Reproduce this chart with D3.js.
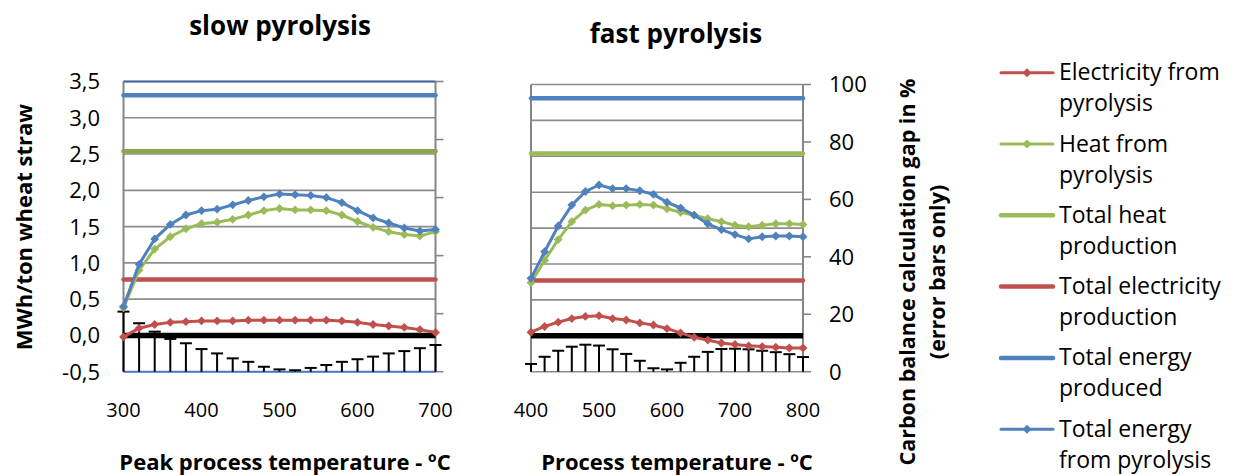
<!DOCTYPE html>
<html><head><meta charset="utf-8">
<script src="https://cdn.jsdelivr.net/npm/d3@7"></script>
<style>
html,body{margin:0;padding:0;background:#fff;}
svg{display:block;font-family:"Open Sans",sans-serif;}
</style></head>
<body>
<svg id="chart" width="1237" height="475"></svg>
<script>
// ---- data ----
const slowTemps = [300,320,340,360,380,400,420,440,460,480,500,520,540,560,580,600,620,640,660,680,700];
const slowElec  = [-0.02,0.10,0.15,0.18,0.19,0.20,0.20,0.20,0.21,0.21,0.21,0.21,0.21,0.21,0.20,0.18,0.15,0.13,0.11,0.08,0.04];
const slowHeat  = [0.38,0.90,1.19,1.36,1.47,1.54,1.56,1.60,1.66,1.72,1.75,1.73,1.73,1.72,1.66,1.57,1.49,1.43,1.39,1.37,1.43];
const slowTotal = [0.40,0.98,1.33,1.53,1.66,1.72,1.74,1.80,1.86,1.91,1.95,1.94,1.93,1.90,1.83,1.72,1.62,1.55,1.48,1.44,1.46];
const slowGap   = [20.7,16.7,13.8,11.3,9.8,7.8,6.3,4.6,3.4,1.7,0.8,0.5,1.3,2.3,3.4,4.3,5.2,6.3,7.1,8.1,9.2];

const fastTemps = [400,420,440,460,480,500,520,540,560,580,600,620,640,660,680,700,720,740,760,780,800];
const fastElec  = [0.05,0.13,0.19,0.24,0.27,0.28,0.24,0.22,0.18,0.15,0.10,0.04,-0.02,-0.06,-0.10,-0.12,-0.14,-0.15,-0.16,-0.17,-0.17];
const fastHeat  = [0.74,1.05,1.34,1.59,1.75,1.83,1.81,1.82,1.83,1.82,1.77,1.72,1.68,1.63,1.59,1.54,1.52,1.54,1.56,1.56,1.55];
const fastTotal = [0.80,1.17,1.53,1.82,2.01,2.10,2.05,2.05,2.02,1.97,1.86,1.78,1.68,1.56,1.48,1.41,1.35,1.38,1.39,1.39,1.38];
const fastGap   = [2.7,5.2,7.3,8.7,9.4,9.1,7.8,6.2,3.8,1.2,0.8,3.1,5.2,6.9,7.9,8.0,7.8,7.3,6.8,6.1,5.1];

const totalHeatProduction = 2.54;
const totalElecProduction = 0.77;
const totalEnergyProduced = 3.31;

const yTicks  = [-0.5,0,0.5,1,1.5,2,2.5,3,3.5];
const y2Ticks = [0,20,40,60,80,100];
const slowXTicks = [300,400,500,600,700];
const fastXTicks = [400,500,600,700,800];

const legendItems = [
  {lines:["Electricity from","pyrolysis"], color:"#c0504d", marker:true},
  {lines:["Heat from","pyrolysis"], color:"#9bbb59", marker:true},
  {lines:["Total heat","production"], color:"#9bbb59", marker:false},
  {lines:["Total electricity","production"], color:"#c0504d", marker:false},
  {lines:["Total energy","produced"], color:"#4f81bd", marker:false},
  {lines:["Total energy","from pyrolysis"], color:"#4f81bd", marker:true}
];

const RED="#c0504d", GREEN="#9bbb59", BLUE="#4f81bd";
const svg = d3.select("#chart");
const diamond = d3.symbol().type(d3.symbolDiamond2).size(50);

function panel(opt){
  const x = d3.scaleLinear().domain(opt.xDomain).range(opt.xRange);
  const y = d3.scaleLinear().domain([-0.5,3.5]).range(opt.yRange);
  const y2 = d3.scaleLinear().domain([0,100]).range(opt.yRange);
  const g = svg.append("g");
  const [x0,x1] = opt.xRange;
  // gridlines
  g.append("g").selectAll("line").data(yTicks).join("line")
    .attr("x1",x0).attr("x2",x1).attr("y1",d=>y(d)).attr("y2",d=>y(d))
    .attr("stroke","#8c8c8c").attr("stroke-width",1.6);
  // frame
  g.append("line").attr("x1",x0).attr("x2",x0).attr("y1",y(3.5)).attr("y2",y(-0.5))
    .attr("stroke","#868686").attr("stroke-width",2);
  g.append("line").attr("x1",x1).attr("x2",x1).attr("y1",y(3.5)).attr("y2",y(-0.5))
    .attr("stroke","#868686").attr("stroke-width",2);
  if(opt.blueFrame){
    g.append("line").attr("x1",x0).attr("x2",x1).attr("y1",y(3.5)).attr("y2",y(3.5))
      .attr("stroke","#3f68a3").attr("stroke-width",2);
    g.append("line").attr("x1",x0).attr("x2",x1).attr("y1",y(-0.5)).attr("y2",y(-0.5))
      .attr("stroke","#4a7ebb").attr("stroke-width",2);
  }
  // secondary axis ticks (right, outward)
  g.append("g").selectAll("line").data(y2Ticks).join("line")
    .attr("x1",x1).attr("x2",x1+8).attr("y1",d=>y2(d)).attr("y2",d=>y2(d))
    .attr("stroke","#868686").attr("stroke-width",1.6);
  // horizontal totals
  const totals = [
    {v:totalEnergyProduced,c:BLUE},
    {v:totalHeatProduction,c:opt.heatTotalColor},
    {v:totalElecProduction,c:RED}
  ];
  g.append("g").selectAll("line").data(totals).join("line")
    .attr("x1",x0).attr("x2",x1).attr("y1",d=>y(d.v)).attr("y2",d=>y(d.v))
    .attr("stroke",d=>d.c).attr("stroke-width",4.5).attr("stroke-linecap","round");
  // error bars (carbon balance gap, secondary axis)
  const eb = g.append("g").attr("stroke","#000").attr("stroke-width",2);
  opt.temps.forEach((t,i)=>{
    const xx = x(t), yb = y2(0), yt = y2(opt.gap[i]);
    eb.append("line").attr("x1",xx).attr("x2",xx).attr("y1",yb).attr("y2",yt);
    eb.append("line").attr("x1",xx-6).attr("x2",xx+6).attr("y1",yt).attr("y2",yt);
  });
  // thick black line at 0
  g.append("line").attr("x1",x0).attr("x2",x1).attr("y1",y(0)).attr("y2",y(0))
    .attr("stroke","#000").attr("stroke-width",5.5);
  // series
  const line = d3.line().x(d=>x(d[0])).y(d=>y(d[1]));
  const series = [
    {vals:opt.heat,c:GREEN},
    {vals:opt.total,c:BLUE},
    {vals:opt.elec,c:RED}
  ];
  series.forEach(s=>{
    const pts = opt.temps.map((t,i)=>[t,s.vals[i]]);
    g.append("path").datum(pts).attr("d",line).attr("fill","none")
      .attr("stroke",s.c).attr("stroke-width",3).attr("stroke-linejoin","round");
    g.append("g").selectAll("path").data(pts).join("path")
      .attr("d",diamond).attr("transform",d=>`translate(${x(d[0])},${y(d[1])})`)
      .attr("fill",s.c);
  });
  // x tick labels
  g.append("g").selectAll("text").data(opt.xTicks).join("text")
    .attr("x",d=>x(d)).attr("y",417).attr("text-anchor","middle")
    .attr("font-size",20).attr("fill","#000").text(d=>d);
  return {x,y,y2};
}

const L = panel({xDomain:[300,700], xRange:[123.5,435.5], yRange:[371.7,81.5],
  temps:slowTemps, elec:slowElec, heat:slowHeat, total:slowTotal, gap:slowGap,
  xTicks:slowXTicks, heatTotalColor:"#88a64b", blueFrame:true});
const R = panel({xDomain:[400,800], xRange:[531,803], yRange:[371.7,84.5],
  temps:fastTemps, elec:fastElec, heat:fastHeat, total:fastTotal, gap:fastGap,
  xTicks:fastXTicks, heatTotalColor:GREEN, blueFrame:false});

// left y tick labels
svg.append("g").selectAll("text").data(yTicks).join("text")
  .attr("x",100).attr("y",d=>L.y(d)).attr("dy","0.36em").attr("text-anchor","end")
  .attr("font-size",22).text(d=>d3.format(".1f")(d).replace(".",",").replace("−","-"));
// right y tick labels
svg.append("g").selectAll("text").data(y2Ticks).join("text")
  .attr("x",829).attr("y",d=>R.y2(d)).attr("dy","0.36em").attr("text-anchor","start")
  .attr("font-size",22).text(d=>d);

// titles
svg.append("text").attr("x",280).attr("y",35).attr("text-anchor","middle")
  .attr("font-size",26).attr("font-weight","bold").text("slow pyrolysis");
svg.append("text").attr("x",676).attr("y",43).attr("text-anchor","middle")
  .attr("font-size",26).attr("font-weight","bold").text("fast pyrolysis");

// axis titles
svg.append("text").attr("x",285).attr("y",470).attr("text-anchor","middle")
  .attr("font-size",22).attr("font-weight","bold").text("Peak process temperature - ºC");
svg.append("text").attr("x",677).attr("y",470).attr("text-anchor","middle")
  .attr("font-size",22).attr("font-weight","bold").text("Process temperature - ºC");
svg.append("text").attr("transform","translate(32,227) rotate(-90)").attr("text-anchor","middle")
  .attr("font-size",22).attr("font-weight","bold").text("MWh/ton wheat straw");
svg.append("text").attr("transform","translate(915,272) rotate(-90)").attr("text-anchor","middle")
  .attr("font-size",21.5).attr("font-weight","bold").text("Carbon balance calculation gap in %");
svg.append("text").attr("transform","translate(945,272) rotate(-90)").attr("text-anchor","middle")
  .attr("font-size",21.5).attr("font-weight","bold").text("(error bars only)");

// legend
const lg = svg.append("g");
legendItems.forEach((it,i)=>{
  const yy = 72.7 + i*71.3;
  lg.append("line").attr("x1",1001).attr("x2",1053).attr("y1",yy).attr("y2",yy)
    .attr("stroke",it.color).attr("stroke-width",it.marker?3:4.5).attr("stroke-linecap","round");
  if(it.marker) lg.append("path").attr("d",diamond).attr("transform",`translate(1027,${yy})`).attr("fill",it.color);
  it.lines.forEach((t,j)=>{
    lg.append("text").attr("x",1059).attr("y",yy+7.5+j*31).attr("font-size",23).text(t);
  });
});
</script>
</body></html>
